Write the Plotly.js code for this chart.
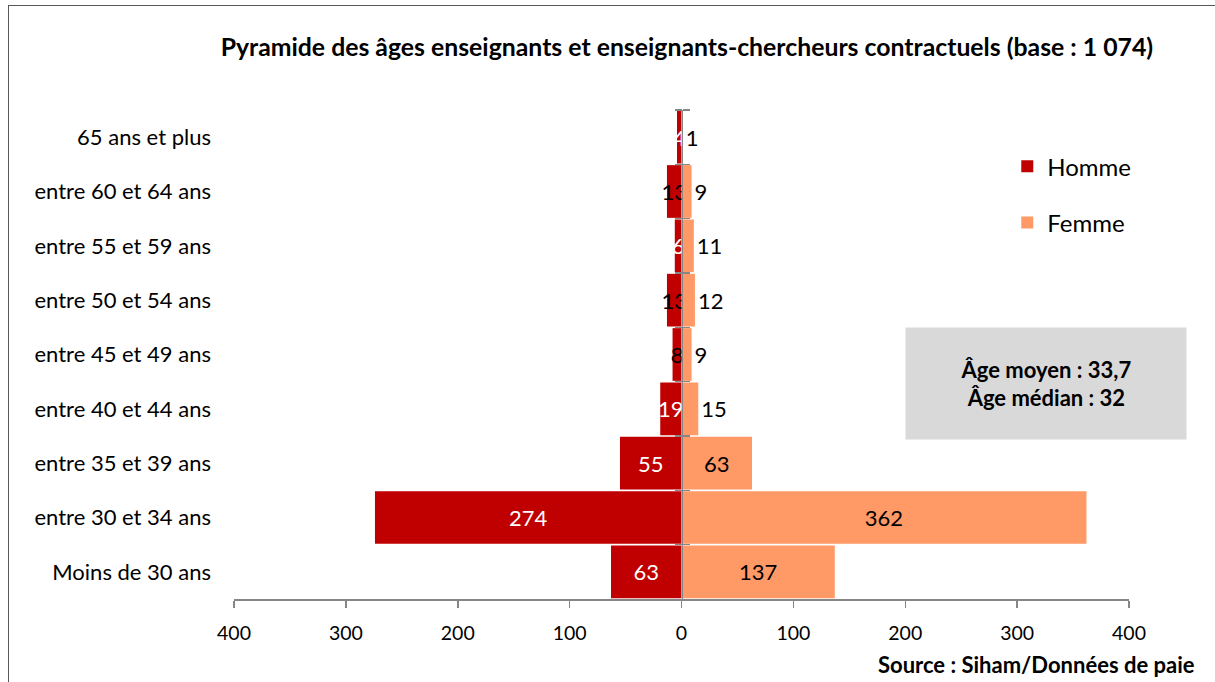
<!DOCTYPE html>
<html>
<head>
<meta charset="utf-8">
<script src="https://cdn.plot.ly/plotly-3.0.1.min.js"></script>
<style>
  html, body { margin: 0; padding: 0; background: #fff; }
  #wrap { position: relative; width: 1215px; height: 682px; overflow: hidden; }
  #frame { position: absolute; left: 8px; top: 5px; width: 1240px; height: 700px; border: 1.5px solid #595959; box-sizing: border-box; pointer-events: none; z-index: 5; }
  #chart { position: absolute; left: 0; top: 0; width: 1215px; height: 682px; }
</style>
</head>
<body>
<div id="wrap">
  <div id="chart"></div>
  <div id="frame"></div>
</div>
<script>
// Age groups, top to bottom
const categories = [
  "65 ans et plus",
  "entre 60 et 64 ans",
  "entre 55 et 59 ans",
  "entre 50 et 54 ans",
  "entre 45 et 49 ans",
  "entre 40 et 44 ans",
  "entre 35 et 39 ans",
  "entre 30 et 34 ans",
  "Moins de 30 ans"
];
const homme = [4, 13, 6, 13, 8, 19, 55, 274, 63];
const femme = [1, 9, 11, 12, 9, 15, 63, 362, 137];
const hommeLabelColors = ["#ffffff", "#000000", "#ffffff", "#000000", "#000000", "#ffffff", "#ffffff", "#ffffff", "#ffffff"];
const tickValues = [-400, -300, -200, -100, 0, 100, 200, 300, 400];
const tickLabels = ["400", "300", "200", "100", "0", "100", "200", "300", "400"];

const FONT = "Lato, 'Open Sans', sans-serif";

const traces = [
  {
    type: "bar", orientation: "h", name: "Homme",
    y: categories, x: homme.map(v => -v),
    text: homme.map(String),
    textposition: "inside", insidetextanchor: "middle", textangle: 0, constraintext: "none",
    insidetextfont: { color: hommeLabelColors, size: 22, family: FONT },
    marker: { color: "#C00000" },
    legendgroup: "h", hoverinfo: "skip", cliponaxis: false
  },
  {
    type: "bar", orientation: "h", name: "Femme",
    y: categories, x: femme,
    text: femme.map(String),
    textposition: "auto", insidetextanchor: "middle", textangle: 0, constraintext: "none",
    insidetextfont: { color: "#000000", size: 22, family: FONT },
    outsidetextfont: { color: "#000000", size: 22, family: FONT },
    marker: { color: "#FF9966" },
    legendgroup: "f", hoverinfo: "skip", cliponaxis: false
  },
  {
    type: "scatter", mode: "markers", y: categories, x: categories.map(() => 0),
    yaxis: "y2", marker: { opacity: 0 }, showlegend: false, hoverinfo: "skip"
  },
  {
    type: "scatter", mode: "markers", y: categories, x: categories.map(() => 0),
    yaxis: "y3", marker: { opacity: 0 }, showlegend: false, hoverinfo: "skip"
  }
];

const layout = {
  width: 1215, height: 682,
  margin: { l: 234, r: 86, t: 110, b: 83 },
  paper_bgcolor: "#ffffff", plot_bgcolor: "rgba(0,0,0,0)",
  font: { family: FONT, color: "#000000", size: 22 },
  barmode: "relative", bargap: 0.03,
  showlegend: true,
  title: {
    text: "<b>Pyramide des âges enseignants et enseignants-chercheurs contractuels (base : 1 074)</b>",
    font: { size: 24.8, family: FONT, color: "#000" },
    xref: "paper", x: 0.506, xanchor: "center",
    yref: "container", y: 1 - 47 / 682, yanchor: "middle"
  },
  xaxis: {
    range: [-400, 400], tickvals: tickValues, ticktext: tickLabels,
    showgrid: false, zeroline: false, showline: true, linecolor: "#868686", linewidth: 1.5,
    ticks: "outside", ticklen: 7, tickcolor: "#868686", tickwidth: 1.5,
    tickfont: { size: 19.5, family: FONT, color: "#000" }, ticklabelstandoff: 9,
    fixedrange: true
  },
  yaxis: {
    type: "category", categoryarray: categories, categoryorder: "array",
    range: [8.5, -0.5], showgrid: false, zeroline: false, showline: false, ticks: "",
    tickfont: { size: 22, family: FONT, color: "#000" }, ticklabelstandoff: 22,
    fixedrange: true
  },
  yaxis2: {
    type: "category", categoryarray: categories, categoryorder: "array",
    range: [8.5, -0.5], overlaying: "y", anchor: "free", position: 0.5, side: "left",
    showgrid: false, zeroline: false, showline: true, linecolor: "#868686", linewidth: 1.5,
    ticks: "outside", tickson: "boundaries", ticklen: 7, tickcolor: "#868686", tickwidth: 1.5,
    showticklabels: false, fixedrange: true
  },
  yaxis3: {
    type: "category", categoryarray: categories, categoryorder: "array",
    range: [8.5, -0.5], overlaying: "y", anchor: "free", position: 0.5, side: "right",
    showgrid: false, zeroline: false, showline: false,
    ticks: "outside", tickson: "boundaries", ticklen: 7, tickcolor: "#868686", tickwidth: 1.5,
    showticklabels: false, fixedrange: true
  },
  legend: {
    x: 0.864, xanchor: "left", y: 0.93, yanchor: "top",
    traceorder: "grouped", tracegroupgap: 22,
    font: { size: 24, family: FONT, color: "#000" },
    bgcolor: "rgba(0,0,0,0)", itemwidth: 30
  },
  annotations: [
    {
      xref: "paper", yref: "paper",
      x: (1046 - 234) / 895, y: (599 - 383.5) / 489, xanchor: "center", yanchor: "middle",
      text: "<b>Âge moyen : 33,7<br>Âge médian : 32</b>",
      showarrow: false, bgcolor: "#D9D9D9", width: 278, height: 109,
      font: { size: 22, family: FONT, color: "#000" }, align: "center"
    },
    {
      xref: "paper", yref: "paper",
      x: (1197 - 234) / 895, y: -(664 - 599) / 489, xanchor: "right", yanchor: "middle",
      text: "<b>Source : Siham/Données de paie</b>",
      showarrow: false, font: { size: 22, family: FONT, color: "#000" }
    }
  ]
};

Plotly.newPlot("chart", traces, layout, { displayModeBar: false, staticPlot: true });
</script>
</body>
</html>
